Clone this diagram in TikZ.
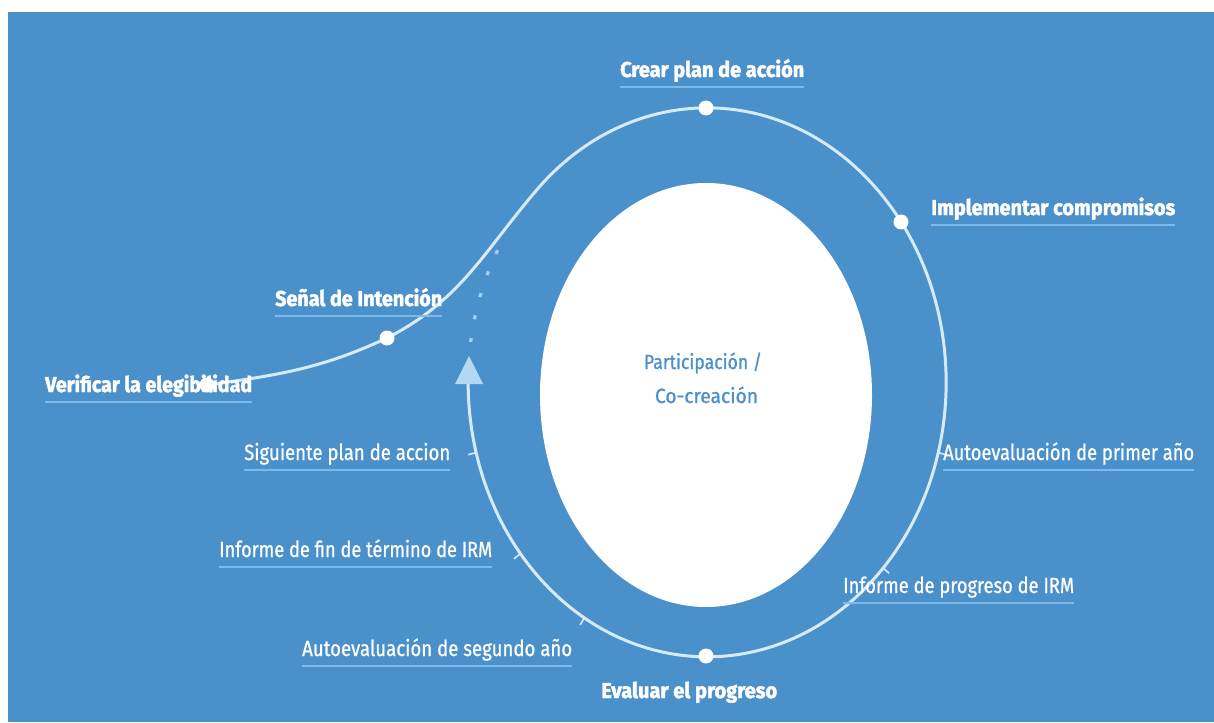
\documentclass[tikz,border=0pt]{standalone}
\usepackage{fontspec}
\setmainfont{Fira Sans}
\newfontfamily\keyfont{Fira Sans}[BoldFeatures={FakeBold=2.2}]
\newfontfamily\subfont{Fira Sans}[UprightFeatures={FakeBold=0.9}]
\usepackage{graphicx}
\usetikzlibrary{shapes.geometric}
\definecolor{bg}{HTML}{4A90CB}
\definecolor{loopc}{HTML}{D6EBFA}
\definecolor{arrowc}{HTML}{B4D8F3}
\definecolor{ulc}{HTML}{7DB9EA}
\definecolor{dotc}{HTML}{A3CFF0}
\newcommand\fitw[2]{\resizebox{#1pt}{\height}{#2}}
\tikzset{
  loopline/.style={draw=loopc, line width=3pt, line cap=round},
  dotline/.style={draw=dotc, line width=3.2pt, dash pattern=on 4pt off 19pt},
  tickline/.style={draw=loopc, line width=1.6pt},
  dotnode/.style={circle, fill=white, minimum size=15pt, inner sep=0pt},
  keylbl/.style={text=white, inner sep=0pt, anchor=base west, font=\fontsize{21.5}{24}\keyfont\bfseries},
  sublbl/.style={text=white, inner sep=0pt, anchor=base west, font=\fontsize{22}{24}\subfont},
  ctrlbl/.style={text=bg, inner sep=0pt, anchor=base, font=\fontsize{20.5}{24}\subfont},
  uline/.style={draw=ulc, line width=2pt},
}
\begin{document}
\begin{tikzpicture}[x=1pt,y=1pt]
\useasboundingbox (0,0) rectangle (1214,-722);
\fill[white] (0,0) rectangle (1214,-722);
\fill[bg] (8,-12) rectangle (1214,-722);

% central white ellipse
\node[ellipse, fill=white, minimum width=332pt, minimum height=424pt, inner sep=0pt] (core) at (706,-395) {};
\node[ctrlbl] (part) at (703,-369) {\fitw{118}{Participación /}};
\node[ctrlbl] (cocre) at (706.5,-403) {\fitw{103}{Co-creación}};

% loop geometry
\coordinate (C) at (707,-382.5);
\coordinate (pverif) at (207,-385);
\coordinate (psenal) at (387,-338);
\coordinate (J) at (536.4,-190.3);
\coordinate (pcrear) at (706,-108);
\coordinate (pimpl) at (901,-222);
\coordinate (peval) at (706,-656);

% S-curve joined with the loop
\draw[loopline] (pverif) to[out=8,in=205] (psenal) to[out=27,in=229.5] (J)
  arc[start angle=135.6, end angle=-180, x radius=239pt, y radius=274.5pt];

% dotted closing part
\draw[dotline] ([shift={(151.2:239 and 274.5)}]C)
  arc[start angle=151.2, end angle=172, x radius=239pt, y radius=274.5pt];

% arrow head
\fill[arrowc] (469,-356) -- (483,-384) -- (455,-384) -- cycle;

% ticks on the loop
\foreach \t in {194.8,218.6,239.1,-14.8,-42.5}{
  \draw[tickline] ([shift={(\t:239 and 274.5)}]C) -- ([shift={(\t:247 and 282.5)}]C);
}

% labels
\node[keylbl] (crear) at (620,-77) {\fitw{184}{Crear plan de acción}};
\node[keylbl] (impl) at (931,-215) {\fitw{244}{Implementar compromisos}};
\node[keylbl] (senal) at (275,-306) {\fitw{167}{Señal de Intención}};
\node[keylbl] (verif) at (45,-392) {\fitw{207}{Verificar la elegibilidad}};
\node[keylbl] (eval) at (601,-698) {\fitw{176}{Evaluar el progreso}};

\node[sublbl] (sig) at (244,-460) {\fitw{206}{Siguiente plan de accion}};
\node[sublbl] (finirm) at (219,-557) {\fitw{273}{Informe de fin de término de IRM}};
\node[sublbl] (seg) at (302,-656) {\fitw{270}{Autoevaluación de segundo año}};
\node[sublbl] (prim) at (943,-460) {\fitw{251}{Autoevaluación de primer año}};
\node[sublbl] (prog) at (843,-593) {\fitw{231}{Informe de progreso de IRM}};

% underlines
\foreach \n in {crear,impl,senal,verif,sig,finirm,seg,prim,prog}{
  \draw[uline] ([yshift=-10pt]\n.base west) -- ([yshift=-10pt]\n.base east);
}

% dots
\node[dotnode] (dverif) at (pverif) {};
\node[dotnode] (dsenal) at (psenal) {};
\node[dotnode] (dcrear) at (pcrear) {};
\node[dotnode] (dimpl) at (pimpl) {};
\node[dotnode] (deval) at (peval) {};
\end{tikzpicture}
\end{document}
